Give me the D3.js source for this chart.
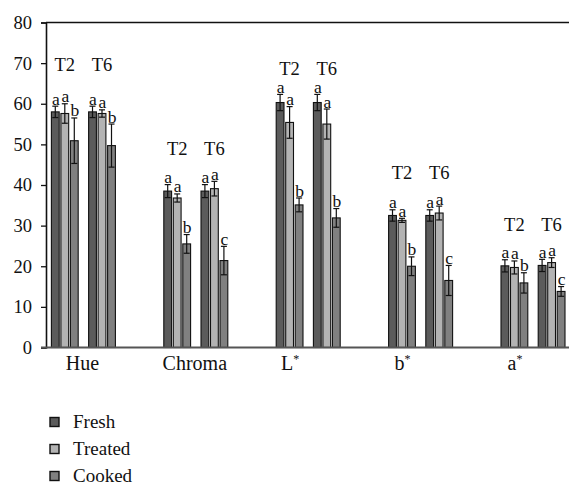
<!DOCTYPE html>
<html>
<head>
<meta charset="utf-8">
<script src="https://cdn.jsdelivr.net/npm/d3@7"></script>
<style>
  html, body { margin: 0; padding: 0; background: #fff; }
  svg { display: block; }
  text { font-family: "Liberation Serif", "Times New Roman", serif; fill: #111; }
</style>
</head>
<body>
<svg id="chart" width="569" height="483"></svg>
<script>
// Colour attributes, two storage times, three sample states
const categories = ["Hue", "Chroma", "L*", "b*", "a*"];
const times = ["T2", "T6"];
const series = ["Fresh", "Treated", "Cooked"];

// Means (one value per category)
const freshT2   = [58.0, 38.5, 60.3, 32.5, 20.1];
const treatedT2 = [57.6, 36.8, 55.4, 31.3, 19.7];
const cookedT2  = [50.9, 25.5, 35.1, 20.0, 15.9];
const freshT6   = [58.0, 38.5, 60.3, 32.5, 20.2];
const treatedT6 = [57.6, 39.1, 55.0, 33.1, 20.9];
const cookedT6  = [49.7, 21.4, 31.9, 16.5, 13.8];

// Standard deviations
const freshT2Err   = [1.4, 1.6, 2.0, 1.4, 1.5];
const treatedT2Err = [2.4, 1.0, 3.9, 0.5, 1.6];
const cookedT2Err  = [5.6, 2.3, 1.7, 2.3, 2.5];
const freshT6Err   = [1.4, 1.6, 2.0, 1.4, 1.5];
const treatedT6Err = [0.9, 1.8, 3.7, 1.7, 1.2];
const cookedT6Err  = [5.3, 3.5, 2.3, 3.7, 1.2];

// Significance letters
const freshT2Sig   = ["a", "a", "a", "a", "a"];
const treatedT2Sig = ["a", "a", "a", "a", "a"];
const cookedT2Sig  = ["b", "b", "b", "b", "b"];
const freshT6Sig   = ["a", "a", "a", "a", "a"];
const treatedT6Sig = ["a", "a", "a", "a", "a"];
const cookedT6Sig  = ["b", "c", "b", "c", "c"];

// Height (in axis units) of the T2 / T6 headings above each attribute
const headingLevel = [69.6, 49.0, 68.8, 43.1, 30.3];

const yTicks = [0, 10, 20, 30, 40, 50, 60, 70, 80];

const colors = { Fresh: "#5b5b5b", Treated: "#b3b3b3", Cooked: "#808080" };

// Build the record table from the arrays above
const valueTable = {
  T2: { Fresh: [freshT2, freshT2Err, freshT2Sig], Treated: [treatedT2, treatedT2Err, treatedT2Sig], Cooked: [cookedT2, cookedT2Err, cookedT2Sig] },
  T6: { Fresh: [freshT6, freshT6Err, freshT6Sig], Treated: [treatedT6, treatedT6Err, treatedT6Sig], Cooked: [cookedT6, cookedT6Err, cookedT6Sig] }
};
const records = [];
categories.forEach((cat, i) => {
  times.forEach(t => {
    series.forEach(s => {
      const [v, e, g] = valueTable[t][s];
      records.push({ cat, time: t, series: s, value: v[i], err: e[i], sig: g[i] });
    });
  });
});

const svg = d3.select("#chart");
const axisX = 46, plotRight = 569, plotTop = 22.5, plotBottom = 347.5;

const y = d3.scaleLinear().domain([0, 80]).range([plotBottom, plotTop]);
const x = d3.scalePoint().domain(categories).range([83.4, 533]);
const xTime = d3.scaleBand().domain(times).range([-32, 32]).paddingInner(0.28);
const xSeries = d3.scaleBand().domain(series).range([0, xTime.bandwidth()]).paddingInner(0.18);

const barX = d => x(d.cat) + xTime(d.time) + xSeries(d.series);
const bw = xSeries.bandwidth();

// Y axis with left ticks
const yAxis = d3.axisLeft(y).tickValues(yTicks).tickSize(5).tickPadding(9).tickFormat(d3.format("d"));
const gy = svg.append("g").attr("transform", `translate(${axisX},0)`).call(yAxis);
gy.select(".domain").attr("stroke", "#111").attr("stroke-width", 1.6);
gy.selectAll(".tick line").attr("stroke", "#111").attr("stroke-width", 1.3);
gy.selectAll(".tick text").attr("font-size", 18.5).attr("font-family", "Liberation Serif, serif").attr("fill", "#111");

// Top rule at 80
svg.append("line").attr("x1", axisX).attr("x2", plotRight).attr("y1", y(80)).attr("y2", y(80))
  .attr("stroke", "#111").attr("stroke-width", 1.3);

// Bars
svg.append("g").selectAll("rect").data(records).join("rect")
  .attr("x", barX)
  .attr("y", d => y(d.value))
  .attr("width", bw)
  .attr("height", d => y(0) - y(d.value))
  .attr("fill", d => colors[d.series])
  .attr("stroke", "#111")
  .attr("stroke-width", 1.1);

// Error bars
const eb = svg.append("g").attr("stroke", "#111").attr("stroke-width", 1.2);
const capHalf = 3;
records.forEach(d => {
  const cx = barX(d) + bw / 2;
  const y1 = y(d.value + d.err), y2 = y(d.value - d.err);
  eb.append("line").attr("x1", cx).attr("x2", cx).attr("y1", y1).attr("y2", y2);
  eb.append("line").attr("x1", cx - capHalf).attr("x2", cx + capHalf).attr("y1", y1).attr("y2", y1);
  eb.append("line").attr("x1", cx - capHalf).attr("x2", cx + capHalf).attr("y1", y2).attr("y2", y2);
});

// Significance letters
svg.append("g").selectAll("text").data(records).join("text")
  .attr("x", d => barX(d) + bw / 2 + 0.5)
  .attr("y", d => y(d.value + d.err) - 1.5)
  .attr("text-anchor", "middle")
  .attr("font-size", 17.5)
  .text(d => d.sig);

// T2 / T6 headings
const headings = [];
categories.forEach((cat, i) => times.forEach(t => headings.push({ cat, t, level: headingLevel[i] })));
svg.append("g").selectAll("text").data(headings).join("text")
  .attr("x", d => x(d.cat) + xTime(d.t) + xTime.bandwidth() / 2)
  .attr("y", d => y(d.level) + 6.5)
  .attr("text-anchor", "middle")
  .attr("font-size", 18.5)
  .text(d => d.t);

// Baseline
svg.append("line").attr("x1", axisX - 5).attr("x2", plotRight).attr("y1", y(0)).attr("y2", y(0))
  .attr("stroke", "#555").attr("stroke-width", 2);

// Category labels (asterisk set as superscript)
const starShift = -18;
const cl = svg.append("g").selectAll("text").data(categories).join("text")
  .attr("x", d => x(d) + (d.endsWith("*") ? starShift : -1))
  .attr("y", 370)
  .attr("text-anchor", "middle")
  .attr("font-size", 20);
cl.each(function(d) {
  const t = d3.select(this);
  if (d.endsWith("*")) {
    t.append("tspan").text(d.slice(0, -1));
    t.append("tspan").attr("dy", -7).attr("font-size", 12).text("*");
  } else {
    t.text(d);
  }
});

// Legend
const lg = svg.append("g").selectAll("g").data(series).join("g")
  .attr("transform", (d, i) => `translate(50,${417.5 + i * 27})`);
lg.append("rect").attr("width", 9).attr("height", 9)
  .attr("fill", d => colors[d]).attr("stroke", "#111").attr("stroke-width", 1.4);
lg.append("text").attr("x", 23).attr("y", 10).attr("font-size", 19).text(d => d);
</script>
</body>
</html>
